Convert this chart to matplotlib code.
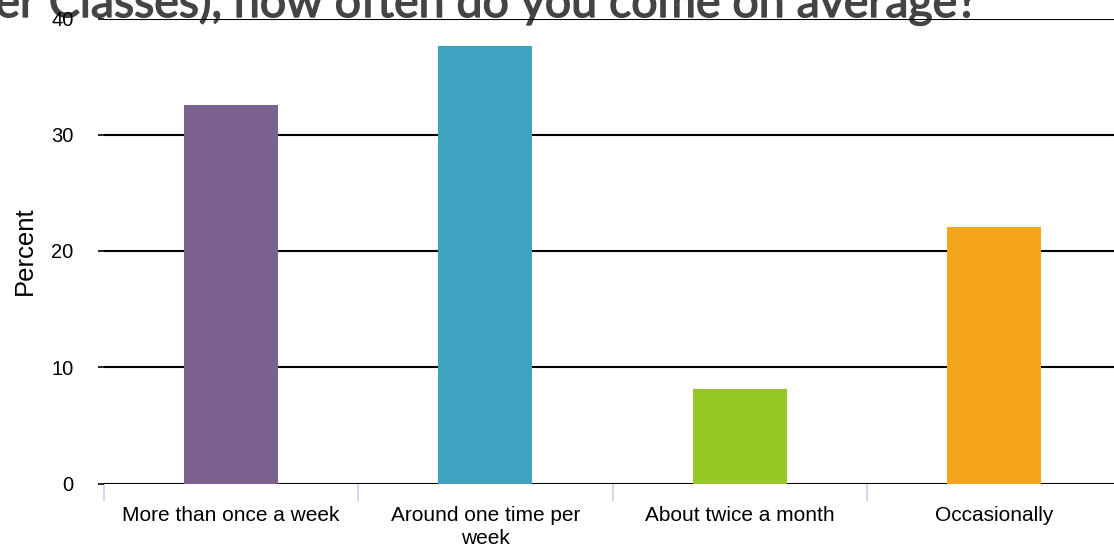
import matplotlib
matplotlib.use("Agg")
import matplotlib.pyplot as plt
import matplotlib.patheffects as pe
from matplotlib.ticker import FixedLocator

categories = ["More than once a week", "Around one time per\nweek",
              "About twice a month", "Occasionally"]
values = [32.6, 37.6, 8.1, 22.1]
colors = ["#7b618e", "#3fa2c1", "#95c825", "#f5a51c"]
yticks = [0, 10, 20, 30, 40]
title = "er Classes), how often do you come on average?"

W, H = 1114, 548
fig = plt.figure(figsize=(W / 100, H / 100), dpi=100)
ax = fig.add_axes([104 / W, 64.5 / H, 1017 / W, 465 / H])
ax.patch.set_visible(False)

x = list(range(len(categories)))
ax.bar(x, values, width=0.37, color=colors, zorder=3)

ax.set_xlim(-0.5, len(categories) - 0.5)
ax.set_ylim(0, 40)
ax.set_yticks(yticks)
ax.grid(axis="y", color="black", linewidth=1.5, zorder=1)
for s in ax.spines.values():
    s.set_visible(False)

ax.set_xticks(x)
ax.set_xticklabels(categories, fontsize=15, family="Liberation Sans",
                   linespacing=1.3)
ax.tick_params(axis="x", which="major", length=0, pad=16)
ax.xaxis.set_minor_locator(FixedLocator([i - 0.5 for i in range(len(categories) + 1)]))
ax.tick_params(axis="x", which="minor", length=12, width=1.5, color="#d3d6ee")
ax.tick_params(axis="y", length=4, width=1.2, color="black", pad=18,
               labelsize=14.5)
for lab in ax.get_yticklabels():
    lab.set_family("Liberation Sans")

ax.set_ylabel("Percent", fontsize=18.5, family="Liberation Sans", labelpad=10)

fig.text(977 / W, 1 - 17 / H, title, ha="right", va="baseline",
         fontsize=33.5, family="Lato", color="#444444", zorder=-1,
         path_effects=[pe.withStroke(linewidth=1.0, foreground="#444444")])

fig.savefig("out.png", dpi=100)
